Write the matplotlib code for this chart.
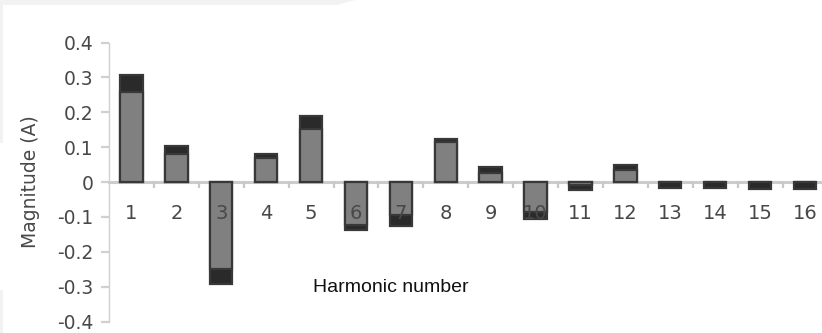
import matplotlib
matplotlib.use("Agg")
import matplotlib.pyplot as plt
from matplotlib.patches import Polygon, Rectangle
import numpy as np

harmonics = [str(i) for i in range(1, 17)]
total_values = [0.306, 0.102, -0.292, 0.080, 0.189, -0.137, -0.127, 0.124,
                0.043, -0.105, -0.024, 0.050, -0.016, -0.017, -0.019, -0.019]
base_values = [0.258, 0.080, -0.250, 0.068, 0.153, -0.123, -0.096, 0.115,
               0.025, -0.087, -0.008, 0.033, 0.0, 0.0, 0.0, 0.0]
y_ticks = [0.4, 0.3, 0.2, 0.1, 0, -0.1, -0.2, -0.3, -0.4]
y_tick_labels = ["0.4", "0.3", "0.2", "0.1", "0", "-0.1", "-0.2", "-0.3", "-0.4"]

W, H = 822, 333
plt.rcParams['font.family'] = ['DejaVu Sans']
fig = plt.figure(figsize=(W / 100, H / 100), dpi=100)

# scanned-page frame artefacts
fig.patches.append(Polygon([(0, 1), (0, 1 - 143 / H), (3 / W, 1 - 143 / H), (3 / W, 1 - 5 / H),
                            (337 / W, 1 - 5 / H), (355 / W, 1)],
                           closed=True, transform=fig.transFigure, facecolor='#f2f2f2',
                           edgecolor='none', zorder=0))
fig.patches.append(Rectangle((0, 0), 3 / W, 43 / H, transform=fig.transFigure,
                             facecolor='#f2f2f2', edgecolor='none', zorder=0))

left = 109 / W
unit = 44.9 / W
ax = fig.add_axes([left, 11.5 / H, 16 * unit, 279 / H])
ax.set_xlim(0.5, 16.5)
ax.set_ylim(-0.4, 0.4)

x = np.arange(1, 17)
ax.bar(x, total_values, width=0.5, color='#2a2a2a', edgecolor='#383838', linewidth=1.6, zorder=3)
ax.bar(x, base_values, width=0.5, color='#808080', edgecolor='#383838', linewidth=1.6, zorder=4)

for s in ['top', 'right']:
    ax.spines[s].set_visible(False)
ax.spines['bottom'].set_position(('data', 0))
ax.spines['bottom'].set_color('#cccccc')
ax.spines['bottom'].set_linewidth(2.2)
ax.spines['bottom'].set_zorder(2)
ax.spines['left'].set_color('#d0d0d0')
ax.spines['left'].set_linewidth(1.0)

ax.set_yticks(y_ticks)
ax.set_yticklabels(y_tick_labels)
ax.tick_params(axis='y', direction='out', length=6, width=1.6, color='#d0d0d0',
               pad=5, labelsize=13.5, labelcolor='#484848')

ax.set_xticks(x)
ax.set_xticklabels(harmonics)
ax.set_xticks(np.arange(1.5, 16.5, 1), minor=True)
ax.tick_params(axis='x', which='major', length=0, pad=16, labelsize=14, labelcolor='#484848')
ax.tick_params(axis='x', which='minor', direction='out', length=4, width=1.6, color='#c8c8c8')
ax.xaxis.set_zorder(6)

fig.text(30 / W, 1 - 182 / H, 'Magnitude (A)', rotation=90, ha='center', va='center',
         fontsize=13.5, color='#484848')
fig.text(391 / W, 1 - 287 / H, 'Harmonic number', ha='center', va='center',
         fontsize=14, color='#111111', family=['Liberation Sans', 'DejaVu Sans'])

fig.savefig('out.png', dpi=100)
